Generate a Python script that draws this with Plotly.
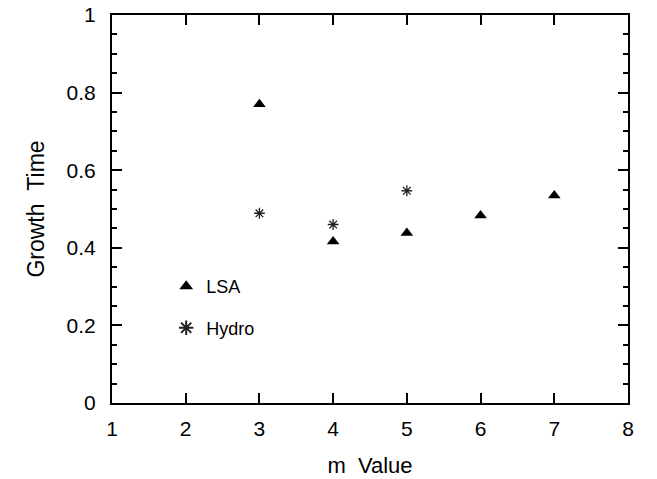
import plotly.graph_objects as go

lsa_m = [3, 4, 5, 6, 7]
lsa_t = [0.77, 0.416, 0.438, 0.483, 0.535]
hydro_m = [3, 4, 5]
hydro_t = [0.489, 0.46, 0.547]

x_ticks = [1, 2, 3, 4, 5, 6, 7, 8]
y_ticks = [0, 0.2, 0.4, 0.6, 0.8, 1]
y_labels = ["0", "0.2", "0.4", "0.6", "0.8", "1"]

FONT = "Liberation Sans, Arial, sans-serif"

fig = go.Figure()
fig.add_trace(go.Scatter(
    x=lsa_m, y=lsa_t, mode="markers", name="LSA", legendgroup="a",
    marker=dict(symbol="triangle-up", size=11, color="black"),
))
fig.add_trace(go.Scatter(
    x=hydro_m, y=hydro_t, mode="markers", name="Hydro", legendgroup="b",
    marker=dict(symbol="asterisk-open", size=9, color="#222",
                line=dict(width=1.3, color="#222")),
))

axis_common = dict(
    showline=True, linecolor="black", linewidth=2, mirror="ticks",
    ticks="inside", ticklen=10, tickwidth=1.5, tickcolor="black",
    showgrid=False, zeroline=False, automargin=False,
    tickfont=dict(family=FONT, size=21, color="black"),
)

fig.update_xaxes(
    range=[1, 8], tickvals=x_ticks, ticktext=[str(v) for v in x_ticks],
    ticklabelstandoff=6,
    title=dict(text="m\u00a0\u00a0Value", font=dict(family=FONT, size=22, color="black"), standoff=18),
    **axis_common,
)
fig.update_yaxes(
    range=[0, 1], tickvals=y_ticks, ticktext=y_labels,
    ticklabelstandoff=10,
    title=dict(text="Growth\u00a0\u00a0Time", font=dict(family=FONT, size=23, color="black"), standoff=16),
    minor=dict(dtick=0.05, tick0=0, ticks="inside", ticklen=5, tickwidth=1.5, tickcolor="black"),
    **axis_common,
)

fig.update_layout(
    width=657, height=479,
    margin=dict(l=112, r=29, t=15, b=76),
    paper_bgcolor="white", plot_bgcolor="white",
    showlegend=True,
    legend=dict(
        x=0.105, y=0.247, xanchor="left", yanchor="middle",
        bgcolor="rgba(0,0,0,0)", font=dict(family=FONT, size=18, color="black"),
        tracegroupgap=15, itemsizing="constant",
    ),
)

fig.write_html("out.html")
